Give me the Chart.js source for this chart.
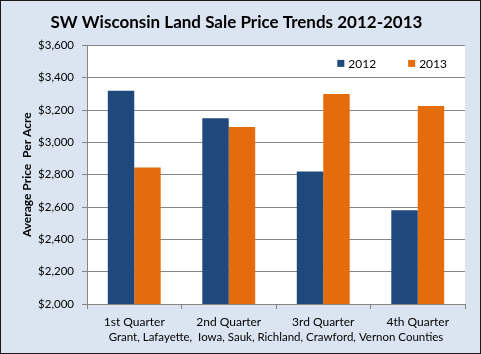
<!doctype html>
<html lang="en">
<head>
<meta charset="utf-8">
<script src="https://cdn.jsdelivr.net/npm/chart.js"></script>
<style>
  html, body { margin: 0; padding: 0; background: #dbe5f1; }
  #wrap { width: 481px; height: 354px; }
</style>
</head>
<body>
<div id="wrap">
  <canvas id="myChart" width="481" height="354"></canvas>
</div>

<script>
  // data
  const quarters = ['1st Quarter', '2nd Quarter', '3rd Quarter', '4th Quarter'];
  const years = ['2012', '2013'];
  const price2012 = [3320, 3150, 2820, 2580];
  const price2013 = [2845, 3095, 3300, 3225];
  const counties = 'Grant, Lafayette,  Iowa, Sauk, Richland, Crawford, Vernon Counties';

  const FONT = 'Lato';
  const gridColor = '#868686';

  // light blue background, white plot area, thin dark frame
  const frame = {
    id: 'frame',
    beforeDraw(chart) {
      const ctx = chart.ctx, a = chart.chartArea;
      ctx.save();
      ctx.fillStyle = '#dbe5f1';
      ctx.fillRect(0, 0, chart.width, chart.height);
      ctx.fillStyle = '#ffffff';
      ctx.fillRect(a.left, a.top, a.right - a.left, a.bottom - a.top);
      ctx.strokeStyle = '#1a1a1a';
      ctx.lineWidth = 1;
      ctx.strokeRect(0.5, 0.5, chart.width - 1, chart.height - 1);
      ctx.restore();
    }
  };

  // legend sitting inside the plot, top right (like the excel one)
  const innerLegend = {
    id: 'innerLegend',
    afterDatasetsDraw(chart) {
      const ctx = chart.ctx, a = chart.chartArea;
      const box = 7, gap = 4, between = 32;
      ctx.save();
      ctx.font = '12px ' + FONT;
      ctx.textBaseline = 'middle';
      const items = chart.data.datasets.map(ds => ({
        text: ds.label, color: ds.backgroundColor, w: ctx.measureText(ds.label).width
      }));
      let total = 0;
      items.forEach((it, i) => { total += box + gap + it.w + (i ? between : 0); });
      let x = a.right - 18 - total;
      const y = a.top + 18;
      items.forEach(it => {
        ctx.fillStyle = it.color;
        ctx.fillRect(x, y - box / 2, box, box);
        ctx.fillStyle = '#000';
        ctx.fillText(it.text, x + box + gap, y + 0.5);
        x += box + gap + it.w + between;
      });
      ctx.restore();
    }
  };

  const canvas = document.getElementById('myChart');
  const chart = new Chart(canvas, {
    type: 'bar',
    data: {
      labels: quarters,
      datasets: [
        { label: years[0], data: price2012, backgroundColor: '#1f497d' },
        { label: years[1], data: price2013, backgroundColor: '#e46c0a' }
      ]
    },
    options: {
      responsive: false,
      animation: false,
      layout: { padding: { left: 8, right: 16, top: 0, bottom: 4 } },
      datasets: { bar: { categoryPercentage: 0.56, barPercentage: 1.0 } },
      plugins: {
        title: {
          display: true,
          text: 'SW Wisconsin Land Sale Price Trends 2012-2013',
          color: '#000',
          font: { family: FONT, size: 17, weight: 'bold' },
          padding: { top: 12, bottom: 13 }
        },
        legend: { display: false },
        tooltip: { enabled: false }
      },
      scales: {
        x: {
          grid: { display: true, drawOnChartArea: false, drawTicks: true, tickLength: 5, color: gridColor, offset: true },
          border: { color: gridColor },
          ticks: { color: '#000', padding: 6, font: { family: FONT, size: 12 } },
          title: {
            display: true,
            text: counties,
            color: '#000',
            font: { family: FONT, size: 11.5 },
            padding: { top: 0, bottom: 6 }
          },
          afterFit: s => { s.height = 46; }
        },
        y: {
          min: 2000,
          max: 3600,
          grid: { color: gridColor, tickLength: 5 },
          border: { color: gridColor },
          ticks: {
            stepSize: 200,
            padding: 8,
            color: '#000',
            font: { family: FONT, size: 11.5 },
            callback: v => '$' + v.toLocaleString('en-US')
          },
          title: {
            display: true,
            text: 'Average Price  Per Acre',
            color: '#000',
            font: { family: FONT, size: 12, weight: 'bold' },
            padding: { top: 12, bottom: 0 }
          },
          afterFit: s => { s.width = 79; }
        }
      }
    },
    plugins: [frame, innerLegend]
  });
</script>
</body>
</html>
